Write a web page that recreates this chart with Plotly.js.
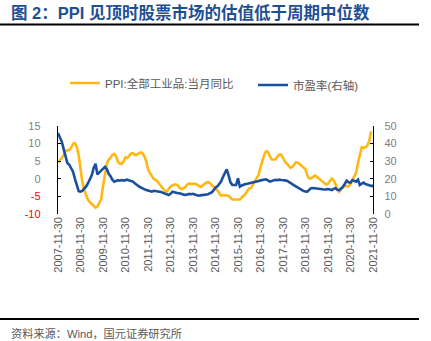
<!DOCTYPE html>
<html>
<head>
<meta charset="utf-8">
<script src="https://cdn.plot.ly/plotly-3.0.1.min.js"></script>
<style>html,body{margin:0;padding:0;background:#fff;}#chart{width:431px;height:341px;}</style>
</head>
<body>
<div id="chart"></div>
<script>
// monthly series start: 2007-11 (month-end dates)
const startYear = 2007, startMonth = 11;

// PPI: 全部工业品: 当月同比 (%), 2007-11 .. 2021-10
const ppi = [
  4.6, 5.4,
  6.1, 6.6, 8.0, 8.1, 8.2, 8.8, 10.0, 10.1, 9.1, 6.6, 2.0, -1.1,
  -3.3, -4.5, -6.0, -6.6, -7.2, -7.8, -8.2, -7.9, -7.0, -5.8, -2.1, 1.7,
  4.3, 5.4, 5.9, 6.8, 7.1, 6.4, 4.8, 4.3, 4.3, 5.0, 6.1, 5.9,
  6.6, 7.2, 7.3, 6.8, 6.8, 7.1, 7.5, 7.3, 6.5, 5.0, 2.7, 1.7,
  0.7, 0.0, -0.3, -0.7, -1.4, -2.1, -2.9, -3.5, -3.6, -2.8, -2.2, -1.9,
  -1.6, -1.6, -1.9, -2.6, -2.9, -2.7, -2.3, -1.6, -1.3, -1.5, -1.4, -1.4,
  -1.6, -2.0, -2.3, -2.0, -1.4, -1.1, -0.9, -1.2, -1.8, -2.2, -2.7, -3.3,
  -4.3, -4.8, -4.6, -4.6, -4.6, -4.8, -5.4, -5.9, -5.9, -5.9, -5.9, -5.9,
  -5.3, -4.9, -4.3, -3.4, -2.8, -2.6, -1.7, -0.8, 0.1, 1.2, 3.3, 5.5,
  6.9, 7.8, 7.6, 6.4, 5.5, 5.5, 5.5, 6.3, 6.9, 6.9, 5.8, 4.9,
  4.3, 3.7, 3.1, 3.4, 4.1, 4.7, 4.6, 4.1, 3.6, 3.3, 2.7, 0.9,
  0.1, 0.1, 0.4, 0.9, 0.6, 0.0, -0.3, -0.8, -1.2, -1.6, -1.4, -0.5,
  0.1, -0.4, -1.5, -3.1, -3.7, -3.0, -2.4, -2.0, -2.1, -2.1, -1.5, -0.4,
  0.3, 1.7, 4.4, 6.8, 9.0, 8.8, 9.0, 9.5, 10.7, 13.5
];

// 市盈率 (右轴), 2007-11 .. 2021-11
const pe = [
  46, 43.5,
  41, 37, 32, 29, 28, 26, 24, 20, 16.5, 13, 12.7, 13.2,
  14.5, 15.5, 17.5, 19.5, 22, 26, 28.5, 22.5, 23.5, 25, 26, 26.8,
  25.5, 23, 21.5, 19.5, 18.4, 18.8, 19.2, 18.9, 19.3, 19, 19.3, 19.5,
  19, 18.8, 18.4, 17.5, 16.5, 15.8, 15.2, 14.5, 14, 13.6, 13.3, 13,
  12.7, 13.2, 13, 12.8, 13, 12.5, 12, 11.6, 11.4, 10.8, 11.5, 12.7,
  12.4, 12, 11.8, 11.8, 11.3, 11, 10.8, 11.2, 11.4, 11.2, 11.5, 11.1,
  10.7, 10.4, 10.6, 10.8, 10.9, 10.8, 11.2, 11.8, 12.3, 13.5, 15, 15.8,
  17, 18.4, 21, 23.1, 25.4, 22, 18, 16.5, 16.3, 16.5, 20.3, 15.5,
  16.2, 16.8, 17, 17.2, 17.4, 17.6, 17.9, 18.2, 18.4, 18.8, 19.1, 19.3,
  19.5, 19.7, 19.1, 18.4, 18.8, 19.3, 19.4, 19.2, 19.5, 19.3, 19.4, 19.1,
  18.9, 18.4, 17.8, 17, 16.2, 15.5, 14.8, 14, 13.3, 13, 12.8, 12.7,
  13.8, 14.6, 14.8, 14.6, 14.3, 14.1, 14, 14.1, 13.9, 14, 14.2, 13.9,
  13.6, 14.3, 14.6, 13.8, 13.6, 14.5, 15.5, 17.2, 18.9, 18, 17.8, 19.3,
  19, 18.4, 19.5, 16.5, 17.2, 17.8, 17, 16.5, 16.3, 16, 16
];

const tickLabels = ['2007-11-30','2008-11-30','2009-11-30','2010-11-30','2011-11-30',
  '2012-11-30','2013-11-30','2014-11-30','2015-11-30','2016-11-30','2017-11-30',
  '2018-11-30','2019-11-30','2020-11-30','2021-11-30'];

const leftTicks = [-10, -5, 0, 5, 10, 15];
const leftTickText = ['<span style="fill:#ff0000">-10</span>','<span style="fill:#ff0000">-5</span>','0','5','10','15'];

function monthEnds(n) {
  const out = [];
  for (let i = 0; i < n; i++) {
    const mIdx = startMonth - 1 + i;
    const y = startYear + Math.floor(mIdx / 12);
    const m = mIdx % 12 + 1;
    const d = new Date(Date.UTC(y, m, 0)).getUTCDate();
    out.push(y + '-' + String(m).padStart(2, '0') + '-' + String(d).padStart(2, '0'));
  }
  return out;
}

const fontFam = 'Liberation Sans, Arial, Noto Sans CJK SC, sans-serif';
const gray = '#7f7f7f';

const traces = [
  {x: monthEnds(ppi.length), y: ppi, type: 'scatter', mode: 'lines', name: 'PPI:全部工业品:当月同比',
   line: {color: '#FFB811', width: 2.6}, xaxis: 'x', yaxis: 'y', legend: 'legend'},
  {x: monthEnds(pe.length), y: pe, type: 'scatter', mode: 'lines', name: '市盈率(右轴)',
   line: {color: '#1A4FA0', width: 2.6}, xaxis: 'x', yaxis: 'y2', legend: 'legend2'}
];

const W = 315, H = 88;
const px = v => (v - 58) / W;
const py = v => (214 - v) / H;

const legFont = {family: fontFam, size: 11.5, color: '#595959'};

const layout = {
  width: 431, height: 341,
  margin: {l: 58, r: 58, t: 126, b: 127},
  paper_bgcolor: '#fff', plot_bgcolor: '#fff',
  font: {family: fontFam, color: gray, size: 11},
  showlegend: true,
  legend: {orientation: 'h', x: px(65), y: py(83), xanchor: 'left', yanchor: 'middle',
    font: legFont, bgcolor: 'rgba(0,0,0,0)', itemwidth: 30},
  legend2: {orientation: 'h', x: px(253), y: py(85), xanchor: 'left', yanchor: 'middle',
    font: legFont, bgcolor: 'rgba(0,0,0,0)', itemwidth: 30},
  xaxis: {type: 'date', range: ['2007-11-30', '2021-11-30'], tickvals: tickLabels, ticktext: tickLabels,
    tickangle: -90, showline: false, ticks: '', showgrid: false, zeroline: false,
    tickfont: {size: 11, color: '#595959', family: fontFam}},
  xaxis2: {type: 'date', overlaying: 'x', anchor: 'free', position: 0.4, side: 'bottom',
    range: ['2007-11-30', '2021-11-30'], tickvals: tickLabels, showticklabels: false,
    ticks: 'inside', ticklen: 3, tickwidth: 1, tickcolor: '#000',
    showline: true, linecolor: '#000', linewidth: 1.5, showgrid: false, zeroline: false},
  yaxis: {range: [-10, 15], tickvals: leftTicks, ticktext: leftTickText, showgrid: false, zeroline: false,
    showline: true, linecolor: '#000', linewidth: 1.2, ticks: 'inside', ticklen: 3, tickcolor: '#000',
    tickfont: {size: 11, color: gray}, ticklabelstandoff: 14},
  yaxis2: {range: [0, 50], dtick: 10, overlaying: 'y', side: 'right', showgrid: false, zeroline: false,
    showline: true, linecolor: '#000', linewidth: 1.2, ticks: 'inside', ticklen: 3, tickcolor: '#000',
    tickfont: {size: 11, color: gray}, ticklabelstandoff: 8},
  shapes: [
    {type: 'line', xref: 'paper', yref: 'paper', x0: px(0), x1: px(419), y0: py(24.5), y1: py(24.5),
     line: {color: '#000', width: 2}},
    {type: 'line', xref: 'paper', yref: 'paper', x0: px(0), x1: px(419), y0: py(319), y1: py(319),
     line: {color: '#000', width: 2}}
  ],
  annotations: [
    {text: '<b>图 2：PPI 见顶时股票市场的估值低于周期中位数</b>', xref: 'paper', yref: 'paper',
     x: px(9), y: py(12), xanchor: 'left', yanchor: 'middle', showarrow: false,
     font: {family: fontFam, size: 16.5, color: '#1F4F93'}},
    {text: '资料来源：Wind，国元证券研究所', xref: 'paper', yref: 'paper',
     x: px(9), y: py(333), xanchor: 'left', yanchor: 'middle', showarrow: false,
     font: {family: fontFam, size: 11.2, color: '#595959'}}
  ]
};

Plotly.newPlot('chart', traces, layout, {displayModeBar: false, staticPlot: true});
</script>
</body>
</html>
